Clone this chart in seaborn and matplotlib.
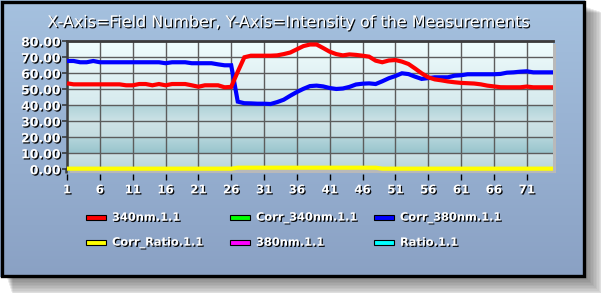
import numpy as np
import pandas as pd
import matplotlib
matplotlib.use("Agg")
import matplotlib.pyplot as plt
import matplotlib.patheffects as pe
from matplotlib.patches import Rectangle
from matplotlib.colors import to_rgb
import seaborn as sns

# ---------------- data ----------------
fields = list(range(1, 76))

s340nm = [53.75, 53.1, 53.1, 53.1, 53.1, 53.1, 53.1, 53.1, 53.1, 52.5,
          52.5, 53.3, 53.3, 52.5, 53.3, 52.5, 53.3, 53.3, 53.3, 52.5,
          51.6, 52.5, 52.5, 52.5, 51.25, 51.5, 61.0, 70.0, 71.0, 71.0,
          71.0, 71.0, 71.2, 72.0, 73.0, 75.0, 77.0, 78.0, 78.0, 75.8,
          73.5, 72.0, 71.2, 71.8, 71.5, 71.0, 70.4, 67.9, 66.9, 68.0,
          68.3, 67.3, 65.8, 63.0, 60.0, 57.5, 56.2, 55.6, 54.9, 54.4,
          54.0, 53.8, 53.6, 53.1, 52.3, 51.8, 51.3, 51.25, 51.25, 51.25,
          51.7, 51.25, 51.25, 51.25, 51.25]

corr_380nm = [67.7, 67.7, 66.9, 66.9, 67.7, 66.9, 66.9, 66.9, 66.9, 66.9,
              66.9, 66.9, 66.9, 66.9, 66.9, 66.3, 66.9, 66.9, 66.9, 66.3,
              66.3, 66.3, 66.3, 65.6, 65.0, 65.0, 42.3, 41.3, 41.2, 41.0,
              41.0, 40.8, 42.0, 43.5, 46.0, 48.3, 50.3, 52.0, 52.3, 51.8,
              50.8, 50.2, 50.5, 51.5, 53.0, 53.5, 53.7, 53.3, 55.0, 56.9,
              58.3, 60.0, 59.5, 57.9, 56.5, 57.0, 57.5, 57.5, 57.5, 58.5,
              58.8, 59.4, 59.4, 59.4, 59.4, 59.4, 59.6, 60.4, 60.6, 61.0,
              61.25, 60.6, 60.6, 60.6, 60.6]

corr_ratio = [0.4] * 26 + [1.0] * 22 + [0.4] * 27

series_names = ["340nm.1.1", "Corr_340nm.1.1", "Corr_380nm.1.1",
                "Corr_Ratio.1.1", "380nm.1.1", "Ratio.1.1"]
series_colors = ["#ff0000", "#00ff00", "#0000ff",
                 "#ffff00", "#ff00ff", "#00ffff"]

x_ticks = list(range(1, 72, 5))
y_ticks = [0, 10, 20, 30, 40, 50, 60, 70, 80]
title_text = "X-Axis=Field Number, Y-Axis=Intensity of the Measurements"

# ---------------- figure ----------------
W, H = 601, 293
fig = plt.figure(figsize=(W / 100, H / 100), dpi=100, facecolor="white")

bg = fig.add_axes([0, 0, 1, 1])
bg.set_xlim(0, W)
bg.set_ylim(H, 0)
bg.axis("off")

# drop shadow of the panel
for k in range(1, 14):
    bg.add_patch(Rectangle((6 + k * 0.5, 6 + k * 0.5), 579 + k, 271 + k,
                           facecolor="black", edgecolor="none", alpha=0.045, zorder=0))

# panel gradient
top_c = np.array(to_rgb("#a5c1df"))
bot_c = np.array(to_rgb("#8aa1c4"))
t = np.linspace(0, 1, 256)[:, None]
grad = (top_c[None, :] * (1 - t) + bot_c[None, :] * t)[:, None, :]
bg.imshow(grad, extent=(0, 585, 277, 0), aspect="auto", zorder=1)
bg.add_patch(Rectangle((1.5, 1.5), 582, 274, facecolor="none",
                       edgecolor="black", linewidth=2.4, zorder=2))

# 3D depth of the plot area (grey floor / right wall)
bg.add_patch(Rectangle((70, 44), 486, 128.5, facecolor="#b9b9b9",
                       edgecolor="none", zorder=3))
bg.plot([66.2, 66.2], [168, 172.5], color="#3c3c3c", lw=1.8, zorder=4,
        solid_capstyle="butt")

shadow = [pe.withSimplePatchShadow(offset=(0.9, -0.9), shadow_rgbFace="black", alpha=0.95)]

# ---------------- plot area ----------------
x0, x1 = 67.0, 553.0
y_top, y_bot = 41.3, 169.3
ax = fig.add_axes([x0 / W, (H - y_bot) / H, (x1 - x0) / W, (y_bot - y_top) / H])
ax.patch.set_visible(False)

# plot background (banded gradient)
keys_y = [0, 9.99, 10.0, 19.99, 20.0, 29.99, 30.0, 39.99, 40.0, 60, 80]
keys_c = ["#b9d6dc", "#cfe3e6", "#98c4cc", "#b6d6dc", "#c4dce0", "#cfe3e7",
          "#cce2e6", "#aed2d8", "#d6eaee", "#e2f2f4", "#f0fefe"]
yy = np.linspace(0, 80, 800)
rgb = np.array([to_rgb(c) for c in keys_c])
cols = np.stack([np.interp(yy, keys_y, rgb[:, i]) for i in range(3)], axis=1)
ax.imshow(cols[:, None, :], extent=(1, 75, 0, 80), aspect="auto",
          origin="lower", zorder=0, interpolation="nearest")

df = pd.DataFrame({
    "field": fields * 3,
    "value": corr_380nm + s340nm + corr_ratio,
    "series": ([series_names[2]] * len(fields) + [series_names[0]] * len(fields)
               + [series_names[3]] * len(fields)),
})
palette = dict(zip(series_names, series_colors))
sns.lineplot(data=df, x="field", y="value", hue="series",
             hue_order=[series_names[2], series_names[0], series_names[3]],
             palette=palette, linewidth=3.0, legend=False, ax=ax, zorder=3)
for ln in ax.lines:
    ln.set_clip_on(False)
    ln.set_solid_capstyle("butt")
    ln.set_solid_joinstyle("miter")

ax.set_xlim(1, 75)
ax.set_ylim(0, 80)
ax.set_xlabel("")
ax.set_ylabel("")
ax.set_xticks(x_ticks)
ax.set_yticks(y_ticks)
ax.set_xticklabels([str(v) for v in x_ticks])
ax.set_yticklabels([f"{v:.2f}" for v in y_ticks])
ax.grid(True, color="#5c5c5c", linewidth=1.0)
ax.set_axisbelow(True)

ax.spines["right"].set_visible(False)
ax.spines["bottom"].set_position(("outward", 3.6))
ax.spines["bottom"].set_color("none")
ax.spines["left"].set_color("#3c3c3c")
ax.spines["left"].set_linewidth(1.8)
ax.spines["top"].set_color("#3c3c3c")
ax.spines["top"].set_linewidth(2.0)

ax.tick_params(axis="y", length=3.5, width=1.1, color="#303030", pad=1.0,
               labelsize=9, labelcolor="white")
ax.tick_params(axis="x", length=4.0, width=1.0, color="black", pad=2.5,
               labelsize=8.5, labelcolor="white")
for lbl in ax.get_xticklabels() + ax.get_yticklabels():
    lbl.set_fontweight("bold")
    lbl.set_path_effects(shadow)

# ---------------- title ----------------
fig.text(290 / W, 1 - 22.5 / H, title_text, ha="center", va="center",
         color="white", fontsize=11.5, path_effects=shadow)

# ---------------- legend ----------------
col_x = [86, 230, 374]
row_y = [217.7, 242.7]
for i, (name, color) in enumerate(zip(series_names, series_colors)):
    cx = col_x[i % 3]
    cy = row_y[i // 3]
    bg.add_patch(Rectangle((cx, cy - 2.5), 20, 5, facecolor=color,
                           edgecolor="black", linewidth=0.8, zorder=5))
    bg.text(cx + 26, cy, name, ha="left", va="center", color="white",
            fontsize=8.2, fontweight="bold", path_effects=shadow, zorder=5)

fig.savefig("out.png", dpi=100, facecolor="white")
